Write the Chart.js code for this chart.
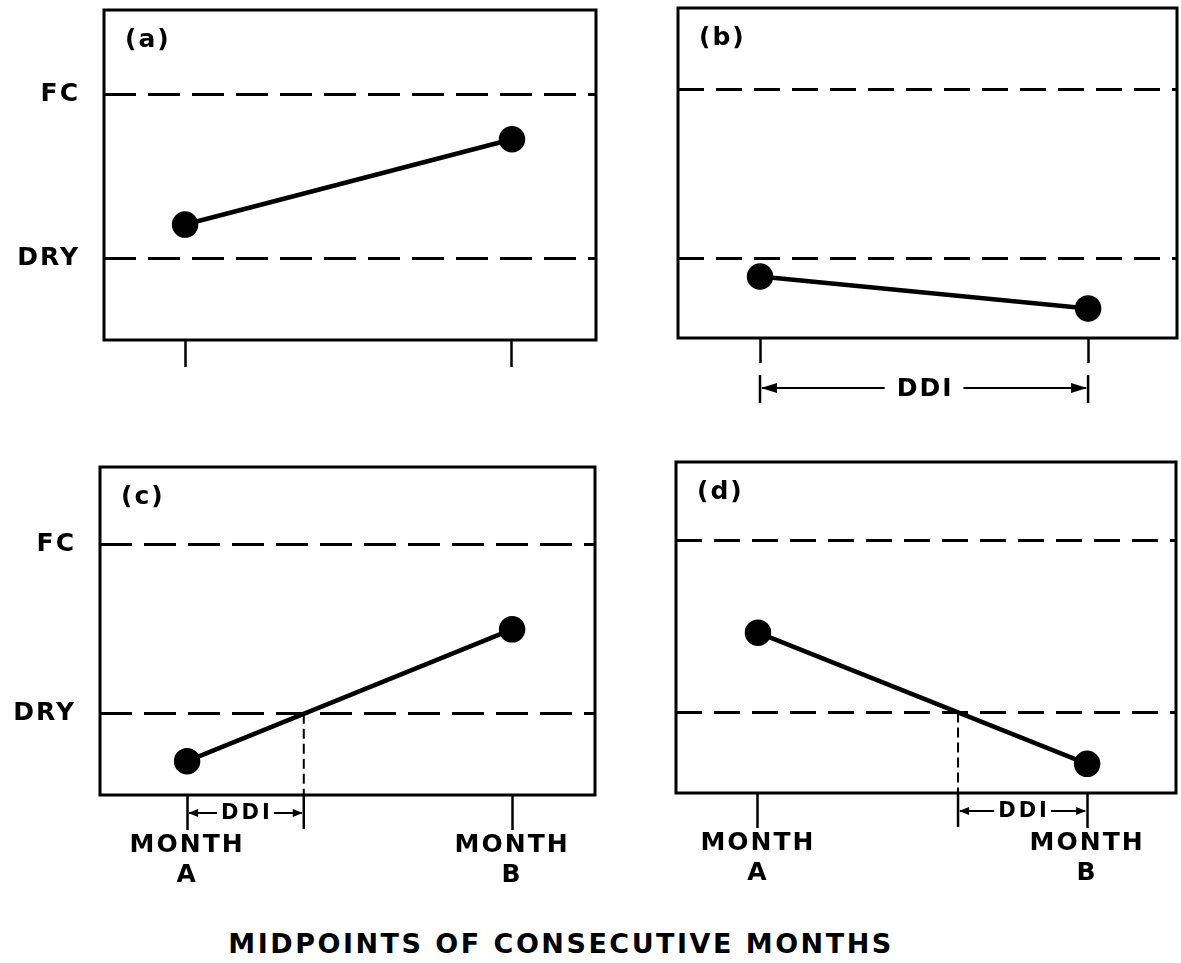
<!DOCTYPE html>
<html lang="en">
<head>
<meta charset="UTF-8">
<title>DDI - midpoints of consecutive months</title>
<script src="https://cdn.jsdelivr.net/npm/chart.js"></script>
<style>
  body { margin: 0; background: #fff; width: 1181px; height: 963px; position: relative; overflow: hidden; }
  canvas { position: absolute; }
  #title {
    position: absolute; left: 0; top: 928px; width: 1122px; text-align: center;
    font: bold 27px "DejaVu Sans", sans-serif; letter-spacing: 2.5px; color: #000;
  }
</style>
</head>
<body>
  <canvas id="panelA" width="600" height="400" style="left:0;top:0"></canvas>
  <canvas id="panelB" width="581" height="420" style="left:600px;top:0"></canvas>
  <canvas id="panelC" width="600" height="460" style="left:0;top:440px"></canvas>
  <canvas id="panelD" width="581" height="460" style="left:600px;top:440px"></canvas>
  <div id="title">MIDPOINTS OF CONSECUTIVE MONTHS</div>

<script>
// data
const monthX = [1, 2];
const monthLetters = ['A', 'B'];
const FC = 2;
const DRY = 1;
const panelLetters = ['(a)', '(b)', '(c)', '(d)'];
const valuesA = [1.21, 1.73];
const valuesB = [0.89, 0.70];
const valuesC = [0.72, 1.50];
const valuesD = [1.465, 0.70];

const FONT = '"DejaVu Sans", sans-serif';

// where the dry line is crossed between month A and month B
function dryCrossing(vals) {
  return monthX[0] + (DRY - vals[0]) / (vals[1] - vals[0]) * (monthX[1] - monthX[0]);
}

function arrowHead(ctx, x, y, dir, len, half) {
  ctx.beginPath();
  ctx.moveTo(x, y);
  ctx.lineTo(x - dir * len, y - half);
  ctx.lineTo(x - dir * len, y + half);
  ctx.closePath();
  ctx.fill();
}

// DDI bracket: arrows pointing out to both bars, label in the middle
function drawDDI(ctx, x1, x2, y, o) {
  ctx.save();
  ctx.fillStyle = '#000';
  ctx.strokeStyle = '#000';
  ctx.font = 'bold ' + o.size + 'px ' + FONT;
  ctx.letterSpacing = o.ls + 'px';
  const w = ctx.measureText('DDI').width - o.ls;
  const cx = (x1 + x2) / 2;
  ctx.textAlign = 'left';
  ctx.textBaseline = 'middle';
  ctx.fillText('DDI', cx - w / 2, y + 1);
  ctx.lineWidth = o.lw;
  ctx.beginPath();
  ctx.moveTo(x1 + 2, y); ctx.lineTo(cx - w / 2 - o.gap, y);
  ctx.moveTo(cx + w / 2 + o.gap, y); ctx.lineTo(x2 - 2, y);
  ctx.stroke();
  arrowHead(ctx, x1 + 1, y, -1, o.alen, o.ahalf);
  arrowHead(ctx, x2 - 1, y, 1, o.alen, o.ahalf);
  ctx.restore();
}

const panelPlugin = {
  id: 'panelDecor',
  beforeDraw(chart) {
    chart.ctx.letterSpacing = '2px';
  },
  afterDraw(chart, args, opts) {
    const ctx = chart.ctx;
    const a = chart.chartArea;
    const xs = chart.scales.x, ys = chart.scales.y;
    ctx.save();
    // frame
    ctx.strokeStyle = '#000';
    ctx.lineWidth = 3;
    ctx.strokeRect(a.left, a.top, a.right - a.left, a.bottom - a.top);
    // panel letter
    ctx.fillStyle = '#000';
    ctx.font = 'bold 25px ' + FONT;
    ctx.letterSpacing = '2px';
    ctx.textBaseline = 'middle';
    ctx.textAlign = 'left';
    ctx.fillText(opts.letter, a.left + 21, a.top + 30);
    ctx.restore();

    if (opts.ddi === 'full') {
      const x1 = xs.getPixelForValue(monthX[0]);
      const x2 = xs.getPixelForValue(monthX[1]);
      const y = a.bottom + 50;
      ctx.save();
      ctx.lineWidth = 2.5;
      ctx.beginPath();
      ctx.moveTo(x1, y - 13); ctx.lineTo(x1, y + 15);
      ctx.moveTo(x2, y - 13); ctx.lineTo(x2, y + 15);
      ctx.stroke();
      ctx.restore();
      drawDDI(ctx, x1, x2, y, { size: 25, ls: 2, lw: 2, gap: 12, alen: 16, ahalf: 5 });
    } else if (opts.ddi) {
      const xc = xs.getPixelForValue(dryCrossing(opts.values));
      const yDry = ys.getPixelForValue(DRY);
      ctx.save();
      ctx.strokeStyle = '#000';
      ctx.lineWidth = 2;
      ctx.setLineDash([10, 5]);
      ctx.beginPath();
      ctx.moveTo(xc, yDry); ctx.lineTo(xc, a.bottom);
      ctx.stroke();
      ctx.setLineDash([]);
      ctx.lineWidth = 2.5;
      ctx.beginPath();
      ctx.moveTo(xc, a.bottom); ctx.lineTo(xc, a.bottom + 34);
      ctx.stroke();
      ctx.restore();
      const xm = xs.getPixelForValue(opts.ddi === 'left' ? monthX[0] : monthX[1]);
      const x1 = Math.min(xm, xc), x2 = Math.max(xm, xc);
      drawDDI(ctx, x1, x2, a.bottom + 18, { size: 21, ls: 3, lw: 2, gap: 4, alen: 10, ahalf: 4 });
    }
  }
};

function noPad(s) {
  s.paddingLeft = 0; s.paddingRight = 0; s.paddingTop = 0; s.paddingBottom = 0;
}

function makePanel(id, p) {
  new Chart(document.getElementById(id), {
    type: 'line',
    data: {
      datasets: [{
        data: monthX.map((x, i) => ({ x: x, y: p.values[i] })),
        borderColor: '#000',
        backgroundColor: '#000',
        borderWidth: 4.5,
        pointRadius: 11,
        pointHoverRadius: 11,
        tension: 0
      }]
    },
    options: {
      responsive: false,
      animation: false,
      devicePixelRatio: 1,
      events: [],
      layout: { padding: p.pad, autoPadding: false },
      plugins: {
        legend: { display: false },
        tooltip: { enabled: false },
        panelDecor: { letter: p.letter, ddi: p.ddi, values: p.values }
      },
      scales: {
        x: {
          type: 'linear',
          min: p.xMin, max: p.xMax,
          afterBuildTicks: s => { s.ticks = monthX.map(v => ({ value: v })); },
          afterFit: s => { s.height = p.xH; noPad(s); },
          border: { display: false },
          grid: { drawOnChartArea: false, drawTicks: true, tickLength: p.tickLen, tickWidth: 2.5, tickColor: '#000' },
          ticks: {
            autoSkip: false, maxRotation: 0, padding: p.labelPad, color: '#000',
            font: { family: FONT, weight: 'bold', size: 25, lineHeight: 1.2 },
            callback: (v, i) => p.months ? ['MONTH', monthLetters[i]] : ''
          }
        },
        y: {
          type: 'linear',
          min: p.yMin, max: p.yMax,
          afterBuildTicks: s => { s.ticks = [DRY, FC].map(v => ({ value: v })); },
          afterFit: s => { s.width = p.yW; noPad(s); },
          border: { display: false, dash: p.dash },
          grid: { color: '#000', lineWidth: 3, drawTicks: false },
          ticks: {
            display: p.levels, padding: 24, color: '#000',
            font: { family: FONT, weight: 'bold', size: 25 },
            callback: v => v === FC ? 'FC' : 'DRY'
          }
        }
      }
    },
    plugins: [panelPlugin]
  });
}

makePanel('panelA', {
  letter: panelLetters[0], values: valuesA, levels: true, months: false, ddi: null,
  pad: { top: 10, right: 4, left: 0, bottom: 0 }, yW: 104, xH: 60, tickLen: 27, labelPad: 0,
  xMin: 0.752, xMax: 2.257, yMin: 0.506, yMax: 2.518, dash: [32, 12]
});
makePanel('panelB', {
  letter: panelLetters[1], values: valuesB, levels: false, months: false, ddi: 'full',
  pad: { top: 8, right: 4, left: 0, bottom: 0 }, yW: 78, xH: 82, tickLen: 25, labelPad: 0,
  xMin: 0.75, xMax: 2.271, yMin: 0.524, yMax: 2.488, dash: [26, 12]
});
makePanel('panelC', {
  letter: panelLetters[2], values: valuesC, levels: true, months: true, ddi: 'left',
  pad: { top: 27, right: 5, left: 0, bottom: 0 }, yW: 100, xH: 105, tickLen: 35, labelPad: 0,
  xMin: 0.732, xMax: 2.255, yMin: 0.52, yMax: 2.46, dash: [32, 12]
});
makePanel('panelD', {
  letter: panelLetters[3], values: valuesD, levels: false, months: true, ddi: 'right',
  pad: { top: 22, right: 5, left: 0, bottom: 0 }, yW: 76, xH: 107, tickLen: 35, labelPad: 0,
  xMin: 0.751, xMax: 2.27, yMin: 0.53, yMax: 2.46, dash: [26, 12]
});
</script>
</body>
</html>
